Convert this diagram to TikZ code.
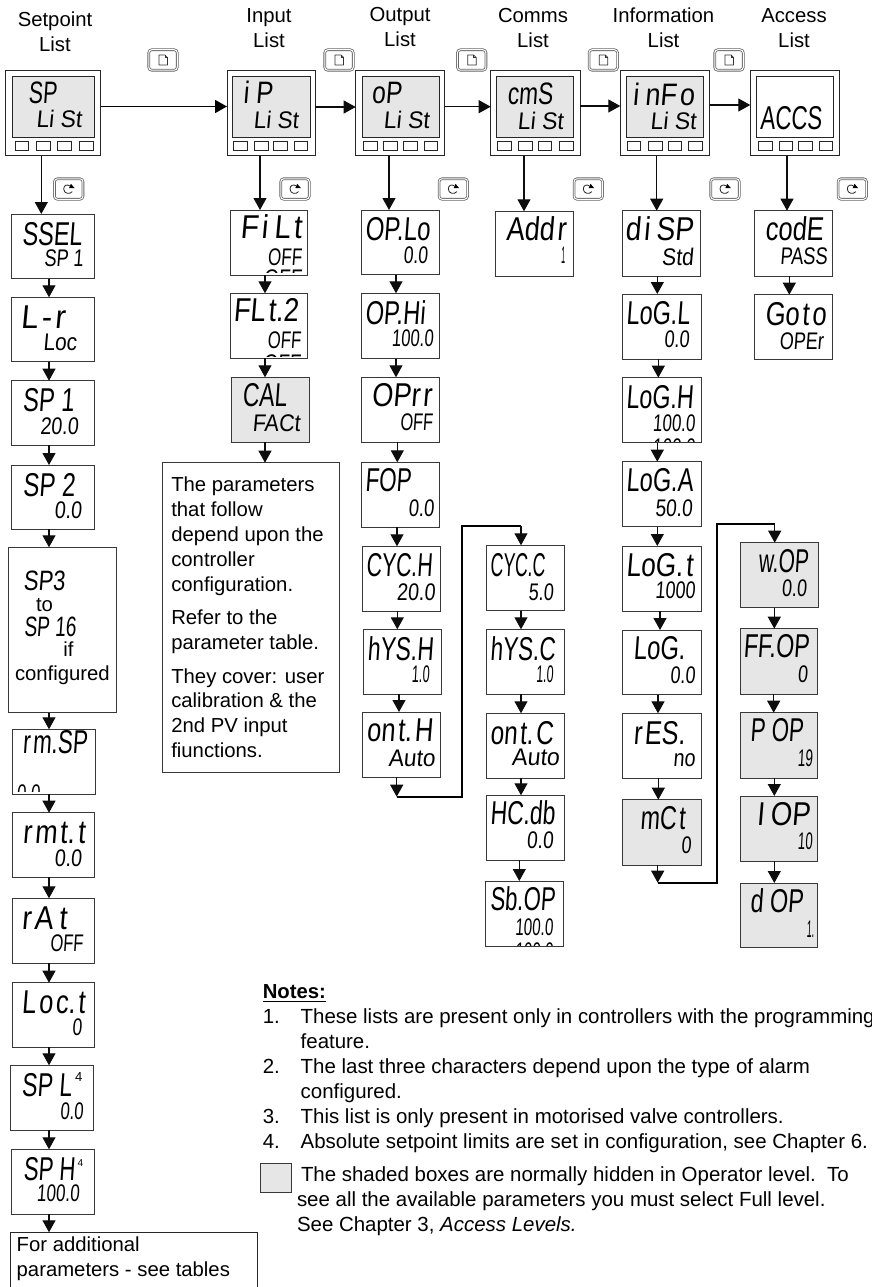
\documentclass[tikz,border=0pt]{standalone}
\usepackage{fontspec}
\usepackage{graphicx}
\setmainfont{Liberation Sans}
\newfontfamily\segfont[FakeSlant=0.1]{Liberation Sans}
\usetikzlibrary{arrows.meta,calc}
\definecolor{dispgrey}{HTML}{E6E6E6}
\newcommand\gp{\kern3.5pt}
\tikzset{
  pbox/.style={draw=black!78,line width=0.9pt,fill=white,inner sep=0,outer sep=0},
  gbox/.style={pbox,fill=dispgrey},
  tbox/.style={draw=black!85,line width=0.9pt,inner sep=0,outer sep=0},
  segtext/.style={anchor=base west,inner sep=0,outer sep=0},
  plain/.style={anchor=base west,inner sep=0,outer sep=0,font=\fontsize{20.3}{24}\selectfont},
  noteline/.style={anchor=base west,inner sep=0,outer sep=0,font=\fontsize{20.45}{24}\selectfont},
  ctitle/.style={anchor=base,inner sep=0,outer sep=0,font=\fontsize{20.3}{24}\selectfont},
  sup4/.style={anchor=base west,inner sep=0,outer sep=0},
  arr/.style={-{Triangle[length=12pt,width=13pt]},line width=1.2pt,black!95},
  thickarr/.style={-{Triangle[length=12pt,width=13pt]},line width=1.7pt,black},
  keyoff/.style={draw=black!60,double=white,double distance=1pt,line width=0.8pt,rounded corners=3pt,fill=white,minimum width=28.5pt,minimum height=20.5pt,inner sep=0,outer sep=0},
}
% box by its edges
\newcommand\ibox[6][pbox]{%
  \pgfmathsetmacro\mybw{#5-#3}\pgfmathsetmacro\mybh{#6-#4}%
  \node[#1,anchor=north west,minimum width=\mybw pt,minimum height=\mybh pt] (#2) at (#3,#4) {};}
% display text fitted between left and right edge
\newcommand\seg[6]{%
  \pgfmathsetmacro\segw{#3-#2}%
  \node[segtext,font=\segfont\fontsize{#5}{#5}\selectfont] (#1) at (#2,#4) {\resizebox{\segw pt}{\height}{#6}};}
\newcommand\clipseg[5]{\begin{scope}\clip (#1,#2) rectangle (#3,#4); #5\end{scope}}
% front panel
\newcommand\topbox[7]{%
  \ibox[tbox,fill=white]{#1}{#2}{70}{#3}{155.5}%
  \ibox[tbox,fill=#6]{#1d}{#4}{76}{#5}{137.5}%
  \foreach \a/\b [count=\i] in {#7}{\ibox[tbox,fill=white,line width=0.7pt]{#1b\i}{\a}{141.5}{\b}{150.5}}}
\newcommand\pagekey[3]{%
  \node[keyoff] (#1) at (#2,#3) {};
  \draw[line width=0.7pt,black!80,fill=white,line join=round] ($(#1.center)+(-4,-5)$) -- ++(6,0) -- ++(2.5,2.5) -- ++(0,7.5) -- ++(-8.5,0) -- cycle;
  \draw[line width=0.6pt,black!80] ($(#1.center)+(2,-5)$) -- ++(0,2.5) -- ++(2.5,0);}
\newcommand\cyclekey[3]{%
  \node[keyoff] (#1) at (#2,#3) {};
  \draw[line width=0.8pt,black!85] ($(#1.center)+(3.6,2.6)$) .. controls ($(#1.center)+(1.5,5.5)$) and ($(#1.center)+(-5,5)$) .. ($(#1.center)+(-5,0)$) .. controls ($(#1.center)+(-5,-4)$) and ($(#1.center)+(-1.5,-4.8)$) .. ($(#1.center)+(1,-3.2)$);
  \fill[black] ($(#1.center)+(0.3,-0.8)$) -- ($(#1.center)+(5.8,-1)$) -- ($(#1.center)+(2.2,-5.2)$) -- cycle;}
\newcommand\varrow[4][arr]{\draw[#1] (#4,0 |- #2.south) -- (#4,0 |- #3.north);}
\begin{document}
\begin{tikzpicture}[x=1pt,y=-1pt]
\useasboundingbox (0,0) rectangle (872,1287);
% titles
\node[ctitle] (tsp1) at (55,26.7) {Setpoint};
\node[ctitle] (tsp2) at (55,51.7) {List};
\node[ctitle] (tin1) at (269,22.7) {Input};
\node[ctitle] (tin2) at (269,47.7) {List};
\node[ctitle] (tou1) at (400,22) {Output};
\node[ctitle] (tou2) at (400,47) {List};
\node[ctitle] (tco1) at (533,22.7) {Comms};
\node[ctitle] (tco2) at (533,47.7) {List};
\node[ctitle] (tnf1) at (663.5,22.7) {Information};
\node[ctitle] (tnf2) at (663.5,47.7) {List};
\node[ctitle] (tac1) at (794,22.7) {Access};
\node[ctitle] (tac2) at (794,47.7) {List};
% keys
\pagekey{pk1}{163}{60}\pagekey{pk2}{339}{60}\pagekey{pk3}{471.7}{60}\pagekey{pk4}{603.3}{60}\pagekey{pk5}{729}{60}
\cyclekey{ck1}{68.7}{189}\cyclekey{ck2}{295}{189}\cyclekey{ck3}{453.3}{189}\cyclekey{ck4}{588.3}{189}\cyclekey{ck5}{725}{189}\cyclekey{ck6}{852.3}{189}
% front panels
\topbox{sp}{5.5}{100.5}{12}{94}{dispgrey}{15/28,36/50,57/71,79/93}
\seg{spm}{28.3}{56.7}{103.3}{31}{SP}\seg{sps}{36}{81.7}{127.3}{24}{Li St}
\topbox{ip}{227}{315}{232.5}{310}{dispgrey}{233/247,254/268,273/287,294/307}
\seg{ipm}{243}{272.7}{103.3}{31}{i P}\seg{ips}{253.3}{298.3}{128.3}{24}{Li St}
\topbox{op}{355.7}{444.7}{362}{439}{dispgrey}{363/377,383/397,403/417,424/437}
\seg{opm}{371.7}{401.7}{103.3}{31}{oP}\seg{ops}{383.3}{429.3}{128.3}{24}{Li St}
\topbox{cm}{490.7}{580}{496.3}{573.7}{dispgrey}{497/511,518/532,538/551,559/573}
\seg{cmm}{507.3}{552.7}{105}{31}{cmS}\seg{cms}{517.3}{563.3}{129}{24}{Li St}
\topbox{nf}{620.3}{709.7}{626.3}{703.7}{dispgrey}{627/640,648/662,668/681,688/702}
\seg{nfm}{632.7}{694.3}{106}{31}{i\gp\gp nF\gp o}\seg{nfs}{650}{696}{129}{24}{Li St}
\topbox{ac}{750.3}{839.3}{756.3}{833.7}{white}{758/772,779/792,798/812,819/832}
\seg{acm}{760}{821.7}{129.3}{33}{ACCS}
% setpoint column
\ibox{ssel}{11}{214}{94.7}{278.7}\seg{sselm}{22}{82}{245}{33}{SSEL}\seg{ssels}{44}{83.3}{266.7}{24}{SP 1}
\ibox{lr}{11}{297.3}{94.5}{361.7}\seg{lrm}{20.7}{65}{328}{33}{L\gp-\gp r}\seg{lrs}{43}{76.7}{350}{24}{Loc}
\ibox{spa}{11}{380.7}{94.5}{445}\seg{spam}{22.7}{74}{411.5}{33}{SP 1}\seg{spas}{40}{78.3}{434}{24}{20.0}
\ibox{spb}{11.7}{465}{94.5}{529.3}\seg{spbm}{23}{75}{496}{33}{SP 2}\seg{spbs}{54.3}{81.7}{518}{24}{0.0}
\ibox{spc}{8}{547.3}{116.7}{712.7}
\seg{spcm}{23.3}{65}{590}{28}{SP3}
\node[plain] (spcto) at (36,611.7) {to};
\seg{spcn}{24}{76}{636.7}{28}{SP 16}
\node[plain] (spcif) at (63.3,656.7) {if};
\node[plain] (spccf) at (15,680.7) {configured};
\ibox{rms}{12}{729.3}{95}{794}\seg{rmsm}{22.7}{87.3}{753.3}{33}{r\gp m.SP}
\clipseg{14}{782}{60}{791}{\seg{rmss}{16.7}{40}{801}{24}{0.0}}
\ibox{rmt}{12}{812.7}{94.5}{877}\seg{rmtm}{22.7}{85}{843}{33}{r\gp m\gp t.\gp t}\seg{rmts}{54.3}{81.7}{866}{24}{0.0}
\ibox{rat}{12}{898.3}{94.5}{963}\seg{ratm}{21.7}{66.7}{929}{33}{r\gp A\gp\gp t}\seg{rats}{50}{83}{951}{24}{OFF}
\ibox{loc}{12}{982.7}{94.5}{1047.3}\seg{locm}{21.7}{85}{1013}{33}{L\gp o\gp c.\gp t}\seg{locs}{72}{81.7}{1035}{24}{0}
\ibox{spl}{10.7}{1065.3}{93.7}{1130}\seg{splm}{21.7}{71.7}{1096}{33}{SP L}\seg{spls}{60}{83.3}{1119}{24}{0.0}
\node[sup4,font=\fontsize{13}{14}\selectfont] (spl4) at (75,1081.7) {4};
\ibox{sph}{11.7}{1149.3}{94.5}{1214}\seg{sphm}{23.3}{75}{1180}{33}{SP H}\seg{sphs}{36.7}{79.3}{1201}{24}{100.0}
\node[sup4,font=\fontsize{10}{11}\selectfont] (sph4) at (77.5,1166.7) {4};
\node[anchor=north west,minimum width=247.4pt,minimum height=54.7pt,inner sep=0,outer sep=0] (addl) at (10,1232.3) {};
\draw[draw=black!85,line width=0.9pt] (addl.south west) -- (addl.north west) -- (addl.north east) -- (addl.south east);
\node[plain] (addl1) at (16.7,1251.7) {For additional};
\node[plain] (addl2) at (16.7,1276.7) {parameters - see tables};
% input column
\ibox{fil}{230}{210}{307.7}{275}\seg{film}{240}{301.7}{238.3}{33}{F\gp i\gp\gp L\gp t}\seg{fils}{267.7}{301.7}{265}{24}{OFF}
\clipseg{232}{268.2}{306}{272}{\seg{filt}{263.7}{301.7}{286}{24}{OFF}}
\ibox{flt}{230}{293.3}{307.7}{358.3}\seg{fltm}{233.3}{298.3}{321.7}{33}{FL\gp t.2}\seg{flts}{267.3}{300.7}{348.3}{24}{OFF}
\clipseg{232}{352.6}{306}{356.6}{\seg{fltt}{263}{300.7}{371}{24}{OFF}}
\ibox[gbox]{cal}{231.3}{377.3}{309.7}{442}\seg{calm}{242.3}{286.7}{406}{33}{CAL}\seg{cals}{252.3}{300}{431}{24}{FACt}
\ibox{note}{162.3}{462.7}{339.3}{772.7}
\node[plain] (n1) at (171.3,491.7) {The parameters};
\node[plain] (n2) at (171.3,516.7) {that follow};
\node[plain] (n3) at (171.3,541.7) {depend upon the};
\node[plain] (n4) at (171.3,566.3) {controller};
\node[plain] (n5) at (171.3,591.7) {configuration.};
\node[plain] (n6) at (171.3,624) {Refer to the};
\node[plain] (n7) at (171.3,649) {parameter table.};
\node[plain] (n8) at (171.3,683.3) {They cover: user};
\node[plain] (n9) at (171.3,707.5) {calibration \& the};
\node[plain] (n10) at (171.3,732.3) {2nd PV input};
\node[plain] (n11) at (171.3,757.3) {fiunctions.};
% output column
\ibox{opl}{361.3}{210}{439}{274.7}\seg{oplm}{365}{430}{240}{33}{OP.Lo}\seg{opls}{403.3}{427.7}{263}{24}{0.0}
\ibox{oph}{361.3}{293.3}{439}{358.7}\seg{ophm}{365}{425}{324}{33}{OP.Hi}\seg{ophs}{391.7}{433.3}{346.7}{24}{100.0}
\ibox{opr}{361.3}{377.3}{439}{442}\seg{oprm}{371.7}{431.7}{406.7}{33}{OPr\gp r}\seg{oprs}{400}{432.7}{430.7}{24}{OFF}
\ibox{fop}{361.3}{462.3}{439.7}{527}\seg{fopm}{365}{411}{491.7}{33}{FOP}\seg{fops}{408.3}{434}{516}{24}{0.0}
\ibox{cyh}{362.7}{546.3}{440.3}{611}\seg{cyhm}{366}{432.3}{576.7}{33}{CYC.H}\seg{cyhs}{396.7}{435}{600}{24}{20.0}
\ibox{hyh}{363.3}{629.3}{441.7}{694.3}\seg{hyhm}{367.3}{433.3}{660}{33}{hYS.H}\seg{hyhs}{411.7}{429.3}{682.7}{24}{1.0}
\ibox{onh}{362.7}{712}{440.3}{777.3}\seg{onhm}{366.7}{432.7}{741.7}{33}{on\gp t.\gp H}\seg{onhs}{388.3}{435}{766}{24}{Auto}
\coordinate (ophj) at (396.7,796.7);
\coordinate (ophk) at (462,796.7);
\coordinate (ophl) at (462,525.7);
\coordinate (ophm2) at (521,525.7);
% output continued
\ibox{cyc}{486.3}{545.3}{564}{610.7}\seg{cycm}{490}{545}{576}{33}{CYC.C}\seg{cycs}{528.3}{553.3}{600}{24}{5.0}
\ibox{hyc}{486.7}{629.3}{564.7}{694.3}\seg{hycm}{490}{555}{660}{33}{hYS.C}\seg{hycs}{536}{553.3}{682.3}{24}{1.0}
\ibox{onc}{486.7}{713.3}{564.7}{778}\seg{oncm}{490}{553.3}{744}{33}{on\gp t.\gp C}\seg{oncs}{511.7}{559.3}{765.7}{24}{Auto}
\ibox{hcd}{486.3}{795.3}{564}{860}\seg{hcdm}{490}{555}{824}{33}{HC.db}\seg{hcds}{526.7}{553.3}{848.3}{24}{0.0}
\ibox{sbo}{485.7}{881}{563.5}{946.3}\seg{sbom}{490}{555}{910}{33}{Sb.OP}\seg{sbos}{515}{553}{935}{24}{100.0}
\clipseg{488}{941.5}{562}{945.5}{\seg{sbot}{515}{553}{959.5}{24}{100.0}}
% comms
\ibox{adr}{495.3}{211.3}{573}{276.3}\seg{adrm}{506}{566}{240}{33}{Add\gp r}\seg{adrs}{561}{565}{263.3}{24}{1}
% information
\ibox{dis}{622}{210.7}{700.3}{276.3}\seg{dism}{625}{693.3}{240.7}{33}{d\gp i\gp\gp SP}\seg{diss}{661.7}{693.3}{265}{24}{Std}
\ibox{lgl}{622.7}{294}{701}{359.3}\seg{lglm}{626}{690}{324}{33}{LoG.L}\seg{lgls}{664}{689.3}{347.3}{24}{0.0}
\ibox{lgh}{622.7}{377.7}{701}{442.7}\seg{lghm}{626}{693.3}{408.3}{33}{LoG.H}\seg{lghs}{652.7}{695}{431}{24}{100.0}
\clipseg{625}{437.5}{699}{441}{\seg{lght}{652.7}{695}{455.5}{24}{100.0}}
\ibox{lga}{622.7}{461.7}{701}{526.7}\seg{lgam}{626}{693}{491.7}{33}{LoG.A}\seg{lgas}{655}{692.3}{516}{24}{50.0}
\ibox{lgt}{622.7}{546}{701}{611.3}\seg{lgtm}{626}{693}{576.7}{33}{LoG.\gp t}\seg{lgts}{655}{695}{598.3}{24}{1000}
\ibox{lgd}{622.7}{630}{701}{694.7}\seg{lgdm}{633.3}{685}{659.3}{33}{LoG.}\seg{lgds}{670}{695}{683.3}{24}{0.0}
\ibox{res}{622.7}{713.3}{701}{778.3}\seg{resm}{633.3}{685}{744.3}{33}{r\gp ES.}\seg{ress}{673}{695}{766}{24}{no}
\ibox[gbox]{mct}{622.7}{799.7}{701}{865}\seg{mctm}{640}{685}{829.3}{33}{mC\gp t}\seg{mcts}{681}{691}{853.3}{24}{0}
\coordinate (mctj) at (657.7,882.7);
\coordinate (mctk) at (717.3,882.7);
\coordinate (mctl) at (717.3,524);
\coordinate (mctm2) at (774.7,524);
% information continued
\ibox[gbox]{wop}{740.7}{542.7}{818.7}{607.7}\seg{wopm}{758.3}{808.3}{572.7}{33}{w.OP}\seg{wops}{781.7}{806.7}{596.7}{24}{0.0}
\ibox[gbox]{ffo}{740}{628.7}{817.3}{694}\seg{ffom}{743.3}{809}{657.3}{33}{FF.OP}\seg{ffos}{797.7}{807.7}{682.7}{24}{0}
\ibox[gbox]{pop}{740}{712.7}{817.3}{778}\seg{popm}{750}{803.3}{741.7}{33}{P OP}\seg{pops}{797.7}{812.7}{766.7}{24}{19}
\ibox[gbox]{iop}{740}{796}{817.3}{861.3}\seg{iopm}{756.7}{810}{825}{33}{I\gp\gp OP}\seg{iops}{797.7}{812.3}{849.3}{24}{10}
\ibox[gbox]{dop}{740}{883}{817.3}{947.7}\seg{dopm}{750}{803.3}{912.7}{33}{d OP}\seg{dops}{806.5}{814}{937.7}{24}{1.}
% access
\ibox{cod}{754.7}{210.7}{832.3}{276.3}\seg{codm}{765}{823.3}{240.7}{33}{codE}\seg{cods}{780}{827.3}{264}{24}{PASS}
\ibox{got}{754.7}{294.7}{832.3}{359.3}\seg{gotm}{765}{826}{325}{33}{Go\gp t\gp o}\seg{gots}{779.3}{823.3}{349}{24}{OPEr}
% horizontal connectors
\draw[thickarr] (sp.east |- 0,106.5) -- (ip.west |- 0,106.5);
\draw[arr] (ip.east |- 0,107) -- (op.west |- 0,107);
\draw[arr] (op.east |- 0,106.7) -- (cm.west |- 0,106.7);
\draw[arr] (cm.east |- 0,106) -- (nf.west |- 0,106);
\draw[arr] (nf.east |- 0,105) -- (ac.west |- 0,105);
% first row connectors
\varrow{sp}{ssel}{41.3}\varrow{ip}{fil}{260}\varrow{op}{opl}{389}\varrow{cm}{adr}{524}\varrow{nf}{dis}{656.7}\varrow{ac}{cod}{787}
% setpoint chain
\varrow{ssel}{lr}{49}\varrow{lr}{spa}{49}\varrow{spa}{spb}{49}\varrow{spb}{spc}{49}\varrow{spc}{rms}{49}\varrow{rms}{rmt}{49}\varrow{rmt}{rat}{49}\varrow{rat}{loc}{49}\varrow{loc}{spl}{49}\varrow{spl}{sph}{49}\varrow{sph}{addl}{49}
% input chain
\varrow{fil}{flt}{265}\varrow{flt}{cal}{265}\varrow{cal}{note}{265}
% output chain
\varrow{opl}{oph}{396}\varrow{oph}{opr}{396}\varrow{opr}{fop}{397.3}\varrow{fop}{cyh}{397}\varrow{cyh}{hyh}{397.3}\varrow{hyh}{onh}{399}
\draw[arr] (396.7,0 |- onh.south) -- (ophj);
\draw[line width=1.7pt,black,line join=miter] (ophj) -- (ophk) -- (ophl) -- (ophm2);
\draw[arr] (ophm2) -- (521,0 |- cyc.north);
\varrow{cyc}{hyc}{521}\varrow{hyc}{onc}{521}\varrow{onc}{hcd}{521}\varrow{hcd}{sbo}{519.3}
% information chain
\varrow{dis}{lgl}{657.3}\varrow{lgl}{lgh}{658.3}\varrow{lgh}{lga}{657.3}\varrow{lga}{lgt}{657.3}\varrow{lgt}{lgd}{660}\varrow{lgd}{res}{658}\varrow{res}{mct}{658.3}
\draw[arr] (657.7,0 |- mct.south) -- (mctj);
\draw[line width=1.7pt,black,line join=miter] (mctj) -- (mctk) -- (mctl) -- (mctm2);
\draw[arr] (mctm2) -- (774.7,0 |- wop.north);
\varrow{wop}{ffo}{774.3}\varrow{ffo}{pop}{773.7}\varrow{pop}{iop}{774.3}\varrow{iop}{dop}{774.3}
% access chain
\varrow{cod}{got}{789.3}
% notes
\node[noteline,font=\fontsize{20.3}{24}\selectfont\bfseries] (nh) at (262.8,998.3) {Notes:};
\draw[line width=1pt,black] ([yshift=-3pt]nh.base west) -- ([yshift=-3pt]nh.base east);
\node[noteline] (a1) at (262.8,1023.3) {1.};\node[noteline] (t1) at (300.7,1023.3) {These lists are present only in controllers with the programming};
\node[noteline] (t1b) at (300.7,1048.3) {feature.};
\node[noteline] (a2) at (262.8,1073.3) {2.};\node[noteline] (t2) at (300.7,1073.3) {The last three characters depend upon the type of alarm};
\node[noteline] (t2b) at (300.7,1098.3) {configured.};
\node[noteline] (a3) at (262.8,1123.3) {3.};\node[noteline] (t3) at (300.7,1123.3) {This list is only present in motorised valve controllers.};
\node[noteline] (a4) at (262.8,1148.3) {4.};\node[noteline] (t4) at (300.7,1148.3) {Absolute setpoint limits are set in configuration, see Chapter 6.};
\ibox[gbox]{swatch}{260.3}{1163.7}{291.5}{1192.7}
\node[noteline] (s1) at (301,1181.7) {The shaded boxes are normally hidden in Operator level.\ \ To};
\node[noteline] (s2) at (297,1206.7) {see all the available parameters you must select Full level.};
\node[noteline] (s3) at (297,1231.7) {See Chapter 3, \textit{Access Levels.}};
\end{tikzpicture}
\end{document}
